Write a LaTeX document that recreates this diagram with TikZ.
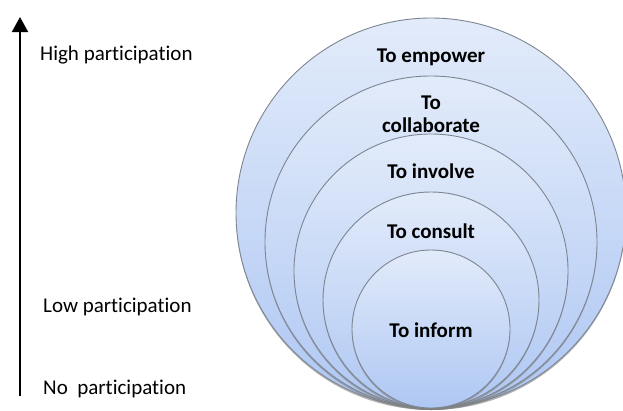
\documentclass[tikz,border=0pt]{standalone}
\usepackage{fontspec}
\setmainfont{Carlito}[Ligatures=NoCommon]
\usetikzlibrary{arrows.meta,shadows}

\definecolor{ringtop}{HTML}{E2EBFA}
\definecolor{ringbot}{HTML}{AEC7F3}
\definecolor{ringline}{HTML}{7D8591}

\tikzset{
  ring/.style={circle, inner sep=0pt, draw=ringline, line width=0.9pt,
    top color=ringtop, bottom color=ringbot,
    drop shadow={opacity=0.6, shadow xshift=0pt, shadow yshift=-2pt}},
  level/.style={anchor=base, font=\fontsize{21}{23}\selectfont\bfseries, align=center},
  side/.style={anchor=base west, inner sep=0pt, font=\fontsize{21}{23}\selectfont}
}

\begin{document}
\begin{tikzpicture}[x=1pt,y=-1pt]
  \useasboundingbox (0,0) rectangle (623,410);
  % nested rings, all touching at the bottom
  \path (431,213) node[ring, minimum size=390pt] (empower) {}
        (431,242) node[ring, minimum size=332pt] (collab)  {}
        (431,271) node[ring, minimum size=274pt] (involve) {}
        (431,300) node[ring, minimum size=216pt] (consult) {}
        (431,329) node[ring, minimum size=158pt] (inform)  {};
  % base of a two-line label is its last line
  \path (431,62)  node[level] (empowertxt) {To empower}
        (431,132) node[level] (collabtxt)  {To\\collaborate}
        (431,178) node[level] (involvetxt) {To involve}
        (431,238) node[level] (consulttxt) {To consult}
        (431,337) node[level] (informtxt)  {To inform};
  % participation scale
  \coordinate (noend) at (20,396);
  \coordinate (highend) at (20,17);
  \draw[line width=2pt, -{Triangle[width=16pt,length=15pt]}] (noend) -- (highend);
  \path (40,60)  node[side] (high) {High participation}
        (43,312) node[side] (low)  {Low participation}
        (43,394) node[side] (none) {No~ participation};
\end{tikzpicture}
\end{document}
